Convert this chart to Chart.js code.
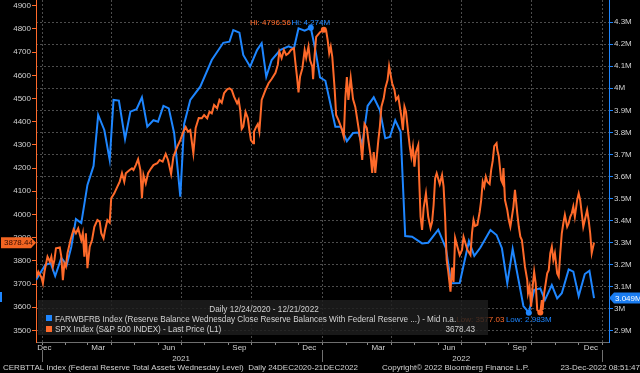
<!DOCTYPE html>
<html>
<head>
<meta charset="utf-8">
<script src="https://cdn.jsdelivr.net/npm/chart.js@4/dist/chart.umd.min.js"></script>
<style>
html,body{margin:0;padding:0;background:#000;overflow:hidden}
canvas{display:block}
</style>
</head>
<body>
<canvas id="c" width="640" height="373" style="width:640px;height:373px"></canvas>
<script>
// ---------- data (x = days since START_DATE) ----------
const START_DATE = '2020-12-24';
const END_AXIS_DAY = 746.5;

// SPX Index daily close
const spxDays = [0,3,7,9,11,15,18,20,22,24,26,31,33,35,37,39,41,45,49,52,55,59,61,63,65,67,70,73,76,80,83,85,88,90,93,96,98,102,106,109,112,115,117,122,125,127,130,133,136,138,140,143,146,150,153,158,161,165,169,172,176,179,184,188,192,195,198,201,205,208,212,216,219,223,226,229,232,236,239,242,245,249,252,255,258,262,264,266,268,270,273,276,278,280,283,284,287,289,291,294,299,303,307,312,315,317,320,323,326,329,332,336,338,340,342,344,347,350,352,355,357,360,361,363,365,368,370,375,378,380,382,384,386,389,391,394,398,401,403,405,407,410,413,416,419,421,423,425,428,431,433,436,438,440,442,446,448,450,453,455,458,460,462,464,467,469,472,474,476,478,480,482,485,487,489,491,493,495,498,499,501,503,505,508,511,514,516,518,520,522,526,529,531,533,535,537,540,542,544,546,549,552,555,557,559,562,566,568,570,572,575,578,580,582,584,586,588,591,593,595,597,600,601,603,606,608,609,611,614,616,618,620,622,624,627,629,631,633,635,637,640,641,643,645,647,649,651,653,657,659,660,662,664,666,668,670,672,674,676,679,681,683,685,687,689,692,694,696,698,700,702,705,707,709,711,713,715,718,720,722,724,727];
const spxValues = [3725,3753,3729,3703,3753,3818,3796,3818,3775,3804,3854,3858,3818,3717,3789,3775,3833,3890,3936,3919,3940,3890,3919,3818,3919,3768,3861,3890,3947,3976,3969,3919,3897,3933,3976,3965,4070,4091,4120,4141,4178,4141,4178,4192,4199,4192,4213,4238,4192,4070,4170,4134,4178,4199,4213,4221,4235,4228,4261,4235,4175,4249,4292,4321,4357,4377,4357,4364,4264,4373,4416,4415,4429,4415,4443,4436,4472,4458,4494,4482,4523,4540,4544,4537,4508,4479,4494,4451,4369,4379,4442,4415,4364,4321,4307,4357,4379,4390,4357,4494,4537,4566,4584,4611,4645,4702,4674,4709,4688,4695,4709,4717,4653,4594,4526,4594,4630,4709,4675,4724,4666,4637,4584,4688,4766,4778,4786,4796.56,4793,4752,4695,4724,4680,4545,4429,4407,4372,4335,4502,4593,4494,4589,4498,4464,4399,4356,4308,4235,4390,4373,4321,4252,4179,4269,4179,4321,4379,4465,4501,4544,4580,4640,4602,4566,4537,4494,4508,4465,4422,4364,4465,4443,4350,4292,4249,4292,4206,4269,4300,4170,3990,3933,4027,4091,3990,3942,3967,4041,4156,4178,4131,4170,4120,3990,3804,3756,3667,3771,3709,3899,3861,3825,3847,3903,3881,3847,3825,3919,3976,3950,3955,4011,4062,4141,4120,4163,4141,4131,4192,4231,4295,4307,4278,4249,4149,4134,4200,4062,4019,3976,3947,3990,4034,4106,4005,3947,3904,3890,3833,3775,3717,3660,3688,3602,3688,3753,3703,3588,3577.03,3631,3588,3660,3703,3746,3760,3833,3861,3804,3833,3746,3732,3833,3919,3962,3998,3947,3962,3990,4005,4034,3990,4062,4091,4062,4005,3947,3976,4019,3976,3919,3833,3878.44];

// FARWBFRB Index weekly reserve balances, shown in M
const resDays = [0,12,19,25,33,40,46,52,59,67,75,81,89,96,101,108,116,123,131,138,145,153,159,166,173,180,188,193,201,214,229,244,252,257,265,270,279,288,294,300,307,318,329,336,342,350,358,364,370,377,390,397,405,413,420,425,432,440,448,455,461,468,475,481,490,503,511,524,534,541,552,564,571,579,592,600,607,614,621,635,642,649,657,663,672,679,685,694,700,707,715,721,727];
const resValues = [3.131,3.199,3.208,3.149,3.231,3.199,3.281,3.407,3.389,3.562,3.648,3.879,3.811,3.675,3.947,3.944,3.770,3.894,3.905,3.959,3.826,3.855,3.848,3.920,3.909,3.796,3.509,3.838,3.947,4.007,4.128,4.206,4.211,4.264,4.252,4.151,4.098,4.173,4.204,4.052,4.128,4.173,4.190,4.180,4.272,4.261,4.274,4.173,4.049,4.034,3.826,3.826,3.760,3.797,3.799,3.745,3.920,3.959,3.901,3.773,3.779,3.855,3.803,3.330,3.327,3.297,3.300,3.359,3.275,3.116,3.117,3.307,3.240,3.278,3.358,3.335,3.275,3.116,3.272,3.013,2.983,3.086,3.093,3.040,3.108,3.048,3.071,3.179,3.169,3.058,3.158,3.173,3.049];

const spxTicks = [3500,3600,3700,3800,3900,4000,4100,4200,4300,4400,4500,4600,4700,4800,4900];
const resTicks = [2.9,3.0,3.1,3.2,3.3,3.4,3.5,3.6,3.7,3.8,3.9,4.0,4.1,4.2,4.3];

const monthLabels = ['Dec','Mar','Jun','Sep','Dec','Mar','Jun','Sep','Dec'];
const monthLabelDates = ['2021-01-04','2021-03-15','2021-06-15','2021-09-15','2021-12-15','2022-03-15','2022-06-15','2022-09-15','2022-12-17'];
const yearLabels = ['2021','2022'];
const yearLabelDates = ['2021-07-01','2022-07-01'];
const yearBoundaryDates = ['2021-01-01','2022-01-01','2023-01-01'];

const resName = 'FARWBFRB Index (Reserve Balance Wednesday Close Reserve Balances With Federal Reserve ...) - Mid n.a.';
const spxName = 'SPX Index (S&P 500 INDEX) - Last Price (L1)';
const legendHeader = 'Daily 12/24/2020 - 12/21/2022';
const legendSpxExtra = '3678.43';
const footerLeft = 'CERBTTAL Index (Federal Reserve Total Assets Wednesday Level)  Daily 24DEC2020-21DEC2022';
const footerMid = 'Copyright\u00A9 2022 Bloomberg Finance L.P.';
const footerRight = '23-Dec-2022 08:51:47';

// ---------- helpers ----------
const ORANGE = '#ff6a2a';
const BLUE = '#1e86ff';
const TXT = '#d2d2d2';
const FONT_FAMILY = '"Liberation Sans", Arial, sans-serif';
const FONT = '8px ' + FONT_FAMILY;
const LEGEND_ROW_WIDTH = 402; // target pixel width of the first legend row

const startUTC = (() => { const [y,m,d] = START_DATE.split('-').map(Number); return Date.UTC(y,m-1,d); })();
function dayOf(s){ const [y,m,d] = s.split('-').map(Number); return (Date.UTC(y,m-1,d) - startUTC)/864e5; }

const monthStarts = [], quarterStarts = new Set();
for (let y = 2021; y <= 2023; y++) {
  for (let m = 1; m <= 12; m++) {
    if (y === 2023 && m > 1) break;
    const v = dayOf(y + '-' + String(m).padStart(2,'0') + '-01');
    monthStarts.push(v);
    if (m % 3 === 1) quarterStarts.add(v);
  }
}
const monthLabelDays = monthLabelDates.map(dayOf);
const yearLabelDays = yearLabelDates.map(dayOf);

const argMax = a => a.reduce((b,v,i)=> v > a[b] ? i : b, 0);
const argMin = a => a.reduce((b,v,i)=> v < a[b] ? i : b, 0);
const iSpxHi = argMax(spxValues), iSpxLo = argMin(spxValues);
const iResHi = argMax(resValues), iResLo = argMin(resValues);

Chart.defaults.font.family = FONT_FAMILY;
Chart.defaults.font.size = 8;
Chart.defaults.color = TXT;

function noPad(s) { s.paddingTop = 0; s.paddingBottom = 0; }

const decor = {
  id: 'decor',
  beforeDraw(chart) {
    const c = chart.ctx; c.save(); c.fillStyle = '#000'; c.fillRect(0,0,chart.width,chart.height); c.restore();
  },
  afterDatasetsDraw(chart) {
    const ctx = chart.ctx;
    const sL = chart.scales.yL, sR = chart.scales.yR;
    const mR = chart.getDatasetMeta(0).data;
    ctx.save();
    ctx.font = FONT; ctx.textBaseline = 'middle';
    // Hi labels
    const pRh = mR[iResHi];
    const hiR = 'Hi: ' + resValues[iResHi].toFixed(3) + 'M';
    const hiS = 'Hi: ' + spxValues[iSpxHi].toFixed(2);
    const wRh = ctx.measureText(hiR).width;
    const yHi = pRh.y - 5.5;
    ctx.textAlign = 'left'; ctx.fillStyle = BLUE; ctx.fillText(hiR, pRh.x - wRh/2, yHi);
    ctx.textAlign = 'right'; ctx.fillStyle = ORANGE; ctx.fillText(hiS, pRh.x - wRh/2 - 0.5, yHi);
    // Low labels
    const pRl = mR[iResLo];
    const loR = 'Low: ' + resValues[iResLo].toFixed(3) + 'M';
    const loS = 'Low: ' + spxValues[iSpxLo].toFixed(2);
    const wRl = ctx.measureText(loR).width;
    const yLo = pRl.y + 7;
    ctx.textAlign = 'left'; ctx.fillStyle = BLUE; ctx.fillText(loR, pRl.x - wRl/2, yLo);
    ctx.textAlign = 'right'; ctx.fillStyle = ORANGE; ctx.fillText(loS, pRl.x - wRl/2 - 1.5, yLo);

    // legend panel
    ctx.fillStyle = 'rgba(30,30,30,0.82)';
    ctx.fillRect(38, 300, 450, 35);
    const w8 = ctx.measureText(resName).width;
    const legSize = Math.min(10, 8 * LEGEND_ROW_WIDTH / w8);
    ctx.font = legSize.toFixed(2) + 'px ' + FONT_FAMILY;
    ctx.fillStyle = TXT; ctx.textAlign = 'center';
    ctx.fillText(legendHeader, 264, 309.5);
    ctx.fillStyle = BLUE; ctx.fillRect(46, 315, 6, 6);
    ctx.fillStyle = ORANGE; ctx.fillRect(46, 326, 6, 6);
    ctx.fillStyle = TXT; ctx.textAlign = 'left';
    ctx.fillText(resName, 55, 319.5);
    ctx.fillText(spxName, 55, 330);
    ctx.textAlign = 'right';
    ctx.fillText(legendSpxExtra, 475, 330);

    // last value boxes
    ctx.font = FONT;
    const lastS = spxValues.length - 1, lastR = resValues.length - 1;
    const yS = sL.getPixelForValue(spxValues[lastS]);
    ctx.fillStyle = '#f26522';
    ctx.beginPath();
    ctx.moveTo(1, yS-5.5); ctx.lineTo(31, yS-5.5); ctx.lineTo(36, yS); ctx.lineTo(31, yS+5.5); ctx.lineTo(1, yS+5.5);
    ctx.closePath(); ctx.fill();
    ctx.fillStyle = '#3a0e00'; ctx.textAlign = 'left';
    ctx.fillText(spxValues[lastS].toFixed(2), 4, yS + 0.5);

    const yB = sR.getPixelForValue(resValues[lastR]);
    ctx.fillStyle = '#1a7cf0';
    ctx.beginPath();
    ctx.moveTo(609, yB); ctx.lineTo(614, yB-5.5); ctx.lineTo(640, yB-5.5); ctx.lineTo(640, yB+5.5); ctx.lineTo(614, yB+5.5);
    ctx.closePath(); ctx.fill();
    ctx.fillStyle = '#ffffff';
    ctx.fillText(resValues[lastR].toFixed(3) + 'M', 615, yB + 0.5);

    ctx.fillStyle = BLUE; ctx.fillRect(0, 292, 2, 10);
    ctx.restore();
  },
  afterDraw(chart) {
    const ctx = chart.ctx, sx = chart.scales.x;
    ctx.save();
    ctx.strokeStyle = '#707070'; ctx.lineWidth = 1;
    yearBoundaryDates.forEach(s => {
      const px = Math.round(sx.getPixelForValue(dayOf(s))) + 0.5;
      ctx.beginPath(); ctx.moveTo(px, 350); ctx.lineTo(px, 362); ctx.stroke();
    });
    ctx.font = FONT; ctx.textBaseline = 'middle'; ctx.fillStyle = TXT;
    ctx.textAlign = 'left'; ctx.fillText(footerLeft, 3, 368);
    ctx.fillText(footerMid, 382, 368);
    ctx.textAlign = 'right'; ctx.fillText(footerRight, 640, 368);
    ctx.restore();
  }
};

new Chart(document.getElementById('c'), {
  type: 'line',
  data: {
    datasets: [
      {
        label: resName,
        data: resDays.map((d,i) => ({x: d, y: resValues[i]})),
        yAxisID: 'yR', xAxisID: 'x',
        borderColor: BLUE, backgroundColor: BLUE, borderWidth: 2,
        pointRadius: c => (c.dataIndex === iResHi || c.dataIndex === iResLo) ? 3 : 0,
        pointBorderWidth: 0, pointHoverRadius: 0, tension: 0, order: 1
      },
      {
        label: spxName,
        data: spxDays.map((d,i) => ({x: d, y: spxValues[i]})),
        yAxisID: 'yL', xAxisID: 'x',
        borderColor: ORANGE, backgroundColor: ORANGE, borderWidth: 2,
        pointRadius: c => (c.dataIndex === iSpxHi || c.dataIndex === iSpxLo) ? 3 : 0,
        pointBorderWidth: 0, pointHoverRadius: 0, tension: 0, order: 0
      }
    ]
  },
  options: {
    responsive: false, devicePixelRatio: 1, animation: false,
    layout: { padding: 0 },
    plugins: { legend: { display: false }, tooltip: { enabled: false } },
    events: [],
    scales: {
      x: {
        type: 'linear', position: 'bottom', min: 0, max: END_AXIS_DAY, weight: 0,
        afterBuildTicks: s => { s.ticks = monthStarts.map(v => ({value: v})); },
        afterFit: s => { s.height = 1; s.paddingLeft = 0; s.paddingRight = 0; },
        ticks: { display: false },
        grid: {
          color: c => (c.tick && quarterStarts.has(c.tick.value)) ? '#4c4c4c' : 'rgba(0,0,0,0)',
          lineWidth: 1, tickLength: 3, tickColor: '#8a8a8a', drawTicks: true
        },
        border: { color: '#6e6e6e', dash: [2,2] }
      },
      xMonth: {
        type: 'linear', position: 'bottom', min: 0, max: END_AXIS_DAY, weight: 1,
        afterBuildTicks: s => { s.ticks = monthLabelDays.map(v => ({value: v})); },
        afterFit: s => { s.height = 10; s.paddingLeft = 0; s.paddingRight = 0; },
        grid: { display: false, drawTicks: false, drawOnChartArea: false },
        border: { display: false },
        ticks: { autoSkip: false, maxRotation: 0, minRotation: 0, padding: 0, color: TXT,
          callback: v => { const i = monthLabelDays.indexOf(v); return i >= 0 ? monthLabels[i] : ''; } }
      },
      xYear: {
        type: 'linear', position: 'bottom', min: 0, max: END_AXIS_DAY, weight: 2,
        afterBuildTicks: s => { s.ticks = yearLabelDays.map(v => ({value: v})); },
        afterFit: s => { s.height = 20; s.paddingLeft = 0; s.paddingRight = 0; },
        grid: { display: false, drawTicks: false, drawOnChartArea: false },
        border: { display: false },
        ticks: { autoSkip: false, maxRotation: 0, minRotation: 0, padding: 1, color: TXT,
          callback: v => { const i = yearLabelDays.indexOf(v); return i >= 0 ? yearLabels[i] : ''; } }
      },
      yL: {
        type: 'linear', position: 'left', min: 3450, max: 4925,
        afterBuildTicks: s => { s.ticks = spxTicks.map(v => ({value: v})); },
        afterFit: s => { s.width = 36; noPad(s); },
        grid: { drawOnChartArea: false, tickLength: 4, tickColor: ORANGE },
        border: { color: ORANGE, width: 1 },
        ticks: { color: TXT, padding: 1, callback: v => String(v) }
      },
      yR: {
        type: 'linear', position: 'right', min: 2.85, max: 4.40,
        afterBuildTicks: s => { s.ticks = resTicks.map(v => ({value: v})); },
        afterFit: s => { s.width = 31; noPad(s); },
        grid: { color: '#4c4c4c', lineWidth: 1, tickLength: 4, tickColor: BLUE },
        border: { color: BLUE, width: 1, dash: [2,2] },
        ticks: { color: TXT, padding: 1, callback: v => (+v.toFixed(1)) + 'M' }
      }
    }
  },
  plugins: [decor]
});
</script>
</body>
</html>
